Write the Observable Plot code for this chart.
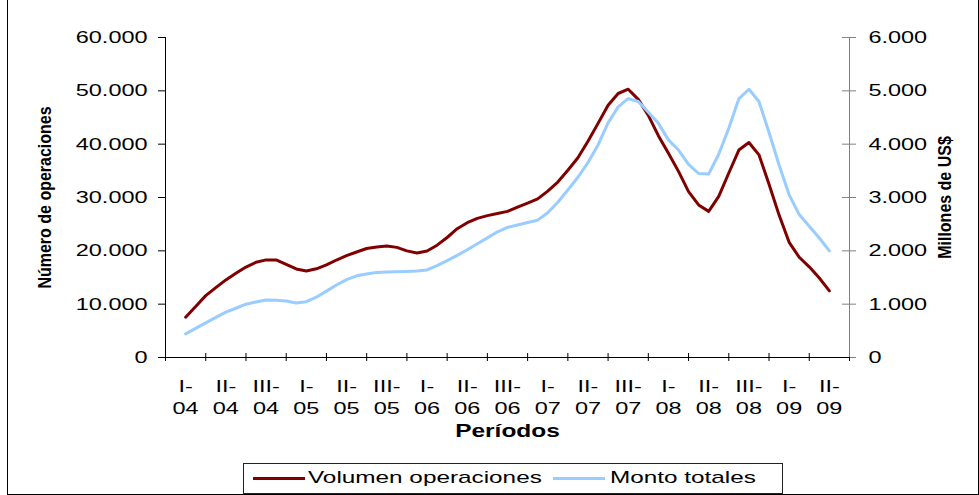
<!DOCTYPE html>
<html><head><meta charset="utf-8">
<script src="https://cdn.jsdelivr.net/npm/d3@7"></script>
<script src="https://cdn.jsdelivr.net/npm/@observablehq/plot@0.6"></script>
<style>
html,body{margin:0;padding:0;background:#fff;}
body{width:979px;height:495px;position:relative;overflow:hidden;font-family:"Liberation Sans",Arial,sans-serif;}
#frame{position:absolute;left:7px;top:-1px;width:972px;height:496px;border:1px solid #000;box-sizing:border-box;pointer-events:none;}
#chart{position:absolute;left:0;top:0;}
#legend{position:absolute;left:243px;top:463px;width:540px;height:31px;border:1px solid #222;box-sizing:border-box;font-size:17px;color:#000;}
#legend .sw{position:absolute;top:13px;width:52px;height:3px;}
#legend .lt{position:absolute;top:4px;white-space:nowrap;transform-origin:0 50%;transform:scaleX(1.43);line-height:20px;}
</style>
</head><body>
<div id="chart"></div>
<div id="legend"></div>
<div id="frame"></div>
<script>
// Period labels (cuatrimestres), one per category band
const periods = ["I-\n04","II-\n04","III-\n04","I-\n05","II-\n05","III-\n05","I-\n06","II-\n06","III-\n06","I-\n07","II-\n07","III-\n07","I-\n08","II-\n08","III-\n08","I-\n09","II-\n09"];
const monthsPerPeriod = 4;

// Volumen operaciones (left axis, número de operaciones), monthly
const volumen = [7550, 9580, 11600, 13100, 14550, 15800, 16960, 17860, 18300, 18300,
  17450, 16610, 16220, 16630, 17350, 18280, 19090, 19780, 20430, 20700,
  20890, 20650, 19990, 19610, 19980, 21060, 22500, 24150, 25270, 26090,
  26600, 27000, 27400, 28190, 28950, 29740, 31200, 32900, 35100, 37450,
  40550, 43900, 47300, 49500, 50300, 48400, 45400, 41600, 38300, 34900,
  31100, 28600, 27400, 30200, 34600, 38900, 40300, 38000, 32500, 26700,
  21600, 18800, 17000, 14900, 12500];

// Monto totales (right axis, millones de US$), monthly
const monto = [444, 547, 650, 752, 850, 923, 1000, 1039, 1077, 1074,
  1060, 1022, 1046, 1130, 1245, 1360, 1461, 1531, 1565, 1596,
  1602, 1607, 1613, 1621, 1641, 1721, 1816, 1914, 2020, 2133,
  2243, 2357, 2440, 2485, 2530, 2575, 2715, 2910, 3140, 3380,
  3655, 3985, 4400, 4700, 4855, 4800, 4600, 4390, 4080, 3890,
  3620, 3450, 3440, 3810, 4300, 4850, 5030, 4800, 4220, 3610,
  3050, 2680, 2460, 2240, 2000];

const leftTicks = [0, 10000, 20000, 30000, 40000, 50000, 60000];
const leftTickLabels = ["0", "10.000", "20.000", "30.000", "40.000", "50.000", "60.000"];
const rightTicks = [0, 1000, 2000, 3000, 4000, 5000, 6000];
const rightTickLabels = ["0", "1.000", "2.000", "3.000", "4.000", "5.000", "6.000"];

const seriesNames = ["Volumen operaciones", "Monto totales"];
const seriesColors = ["#800000", "#99CCFF"];
const xTitle = "Períodos";
const yLeftTitle = "Número de operaciones";
const yRightTitle = "Millones de US$";

const ratio = leftTicks[leftTicks.length - 1] / rightTicks[rightTicks.length - 1];

const rows = volumen.map((v, i) => ({t: 0.5 + i / monthsPerPeriod, volumen: v, monto: monto[i]}));
const nCat = periods.length;

const chart = Plot.plot({
  width: 979,
  height: 455,
  marginLeft: 165,
  marginRight: 130,
  marginTop: 37,
  marginBottom: 98,
  x: {domain: [0, nCat], axis: null},
  y: {domain: [0, leftTicks[leftTicks.length - 1]], axis: null},
  style: {fontFamily: "'Liberation Sans', Arial, sans-serif", fontSize: "17px", color: "#000", background: "transparent"},
  marks: [
    // left axis
    Plot.axisY({anchor: "left", label: null, ticks: leftTicks, tickSize: 7, tickPadding: 11,
      tickFormat: d => leftTickLabels[leftTicks.indexOf(d)]}),
    // right axis labels
    Plot.axisY({anchor: "right", label: null, ticks: rightTicks.map(d => d * ratio), tickSize: 0, tickPadding: 19,
      tickFormat: d => rightTickLabels[rightTicks.indexOf(d / ratio)]}),
    // right axis crossing ticks
    Plot.ruleY(rightTicks, {y: d => d * ratio, x1: nCat, x2: nCat, insetLeft: -7, insetRight: -7, stroke: "#808080"}),
    // x category boundary ticks (crossing)
    Plot.ruleX(d3.range(nCat + 1), {x: d => d, y1: 0, y2: 0, insetTop: -4, insetBottom: -4, stroke: "#000"}),
    // x category labels
    Plot.axisX({label: null, ticks: periods.map((_, i) => i + 0.5), tickSize: 0, tickPadding: 19, lineHeight: 1.3,
      tickFormat: d => periods[Math.floor(d)]}),
    // axis lines
    Plot.ruleX([nCat], {stroke: "#808080"}),
    Plot.ruleX([0], {stroke: "#000"}),
    Plot.ruleY([0], {stroke: "#000"}),
    // series
    Plot.line(rows, {x: "t", y: "volumen", stroke: seriesColors[0], strokeWidth: 3, strokeLinejoin: "round"}),
    Plot.line(rows, {x: "t", y: d => d.monto * ratio, stroke: seriesColors[1], strokeWidth: 3, strokeLinejoin: "round"}),
    // titles
    Plot.text([yLeftTitle], {text: d => d, frameAnchor: "left", textAnchor: "middle", rotate: -90, dx: -120, fontWeight: "bold", fontSize: 16}),
    Plot.text([yRightTitle], {text: d => d, frameAnchor: "right", textAnchor: "middle", rotate: -90, dx: 96, fontWeight: "bold", fontSize: 16}),
    Plot.text([xTitle], {text: d => d, frameAnchor: "bottom", dy: 79, fontWeight: "bold", fontSize: 18})
  ]
});
document.getElementById("chart").appendChild(chart);

// emulate the horizontally stretched lettering of the original chart:
// wrap each text in a group and scale it horizontally about an anchor of its box
function stretch(el, sx, anchor) {
  const g = document.createElementNS("http://www.w3.org/2000/svg", "g");
  el.parentNode.insertBefore(g, el);
  g.appendChild(el);
  const b = g.getBBox();
  const ax = anchor === "end" ? b.x + b.width : anchor === "start" ? b.x : b.x + b.width / 2;
  g.setAttribute("transform", `translate(${ax},0) scale(${sx},1) translate(${-ax},0)`);
}
const texts = Array.from(chart.querySelectorAll("text"));
texts.forEach(el => {
  const t = el.textContent;
  const anchor = el.getAttribute("text-anchor") || (el.parentNode && el.parentNode.getAttribute("text-anchor")) || "middle";
  if (t === yLeftTitle || t === yRightTitle) stretch(el, 1.12, "middle");
  else if (t === xTitle) stretch(el, 1.36, "middle");
  else if (leftTickLabels.includes(t) && el.getBoundingClientRect().left < 400) stretch(el, 1.38, "end");
  else if (rightTickLabels.includes(t)) stretch(el, 1.38, "start");
  else stretch(el, 1.38, "middle");
});

// legend
const legend = d3.select("#legend");
const swLeft = [9, 309], txtLeft = [64, 366];
seriesNames.forEach((name, i) => {
  legend.append("span").attr("class", "sw").style("left", swLeft[i] + "px").style("background", seriesColors[i]);
  legend.append("span").attr("class", "lt").style("left", txtLeft[i] + "px").text(name);
});
</script>
</body></html>
